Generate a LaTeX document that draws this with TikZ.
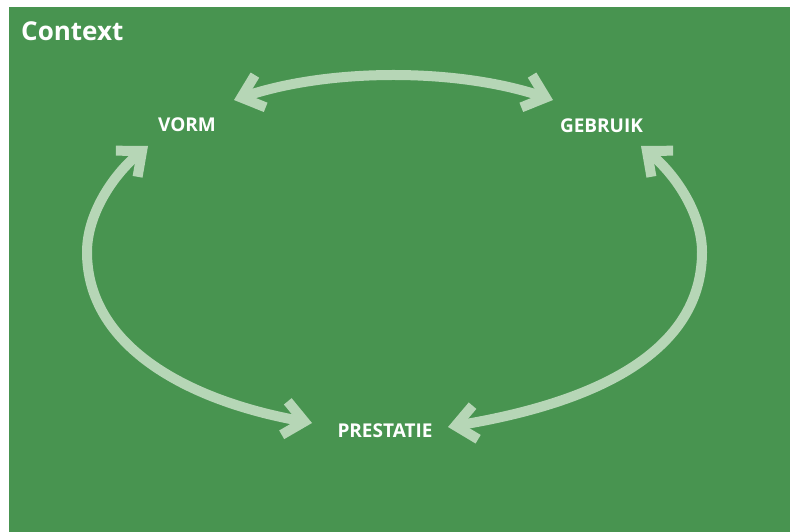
\documentclass[tikz,border=0pt]{standalone}
\usepackage{fontspec}
\setmainfont{Open Sans}
\usetikzlibrary{arrows.meta}
\definecolor{bggreen}{RGB}{72,148,80}
\definecolor{arrowgreen}{RGB}{182,214,182}
\tikzset{
  lbl/.style={text=white, font=\bfseries\fontsize{19}{22}\selectfont, inner sep=0pt, anchor=base},
  chev/.style={draw=arrowgreen, line width=10pt, line cap=butt,
    {Straight Barb[length=20pt,width=34pt,line cap=butt,line join=miter]}-{Straight Barb[length=20pt,width=34pt,line cap=butt,line join=miter]}}
}
\begin{document}
\begin{tikzpicture}[x=1pt,y=-1pt]
\useasboundingbox (0,0) rectangle (790,532);
\fill[bggreen] (9,7) rectangle (790,532);
\node[text=white, font=\bfseries\fontsize{26}{30}\selectfont, inner sep=0pt, anchor=base west] (ctx) at (21,40.5) {Context};
\node[lbl] (vorm) at (187,132) {VORM};
\node[lbl] (gebruik) at (601.5,133) {GEBRUIK};
\node[lbl] (prestatie) at (385,437) {PRESTATIE};
\coordinate (topL) at (234,100);
\coordinate (topR) at (553,100);
\coordinate (vormTip) at (148,146);
\coordinate (gebTip) at (641,146);
\coordinate (presL) at (312,423);
\coordinate (presR) at (448,427);
\draw[chev] (topL) .. controls (330,68) and (457,68) .. (topR);
\draw[chev] (vormTip) .. controls (112,176) and (87,215) .. (87,252)
  .. controls (87,345) and (185,400) .. (presL);
\draw[chev] (gebTip) .. controls (677,176) and (702,215) .. (702,252)
  .. controls (702,345) and (610,400) .. (presR);
\end{tikzpicture}
\end{document}
